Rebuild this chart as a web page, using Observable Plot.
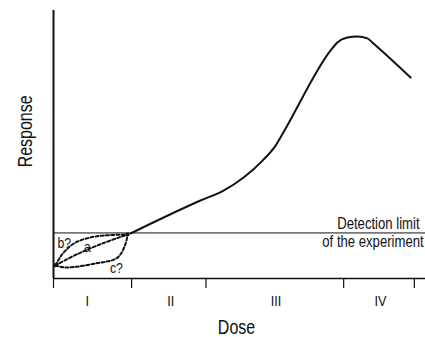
<!DOCTYPE html>
<html>
<head>
<meta charset="utf-8">
<script src="https://cdn.jsdelivr.net/npm/d3@7"></script>
<script src="https://cdn.jsdelivr.net/npm/@observablehq/plot@0.6"></script>
<style>
  html, body { margin: 0; padding: 0; background: #fff; }
</style>
</head>
<body>
<div id="chart"></div>
<script>
// Dose (x) and Response (y) in arbitrary units 0..100
const curveDose     = [20.7, 39.5, 45.7, 51.1, 56.2, 59.7, 61.8, 74.5, 76.3, 79.0, 81.7, 84.4, 86.0, 96.0];
const curveResponse = [16.8, 29.1, 32.8, 37.7, 44.0, 49.6, 54.5, 85.1, 88.1, 89.9, 90.3, 89.6, 87.7, 75.0];

const bDose     = [0.5, 1.9, 3.2, 5.9, 11.3, 19.9];
const bResponse = [4.9, 8.2, 10.4, 13.4, 15.7, 16.4];
const aDose     = [0.5, 6.7, 13.2, 19.9];
const aResponse = [4.9, 9.3, 13.1, 16.4];
const cDose     = [0.5, 3.2, 11.3, 17.2, 19.4, 19.9];
const cResponse = [4.9, 4.1, 5.6, 7.8, 13.1, 16.4];

const detectionLimit = 17;
const tickDoses = [0, 21, 41, 78, 97];
const regionLabels = ["I", "II", "III", "IV"];
const regionCenters = [9.1, 31.5, 59.8, 87.9];
const hypLabels = ["b?", "a", "c?"];
const hypLabelDose = [2.9, 9.1, 16.9];
const hypLabelResponse = [13.1, 11.7, 3.7];

const toPts = (xs, ys) => xs.map((x, i) => ({x, y: ys[i]}));
const mainCurve = toPts(curveDose, curveResponse);
const hypB = toPts(bDose, bResponse);
const hypA = toPts(aDose, aResponse);
const hypC = toPts(cDose, cResponse);
const regions = regionLabels.map((l, i) => ({l, x: regionCenters[i]}));
const hypText = hypLabels.map((t, i) => ({t, x: hypLabelDose[i], y: hypLabelResponse[i]}));

const font = '"Liberation Sans", Arial, sans-serif';
const dash = {stroke: "#111", strokeWidth: 2, strokeDasharray: "3,2.2", curve: "catmull-rom"};

const chart = Plot.plot({
  width: 425,
  height: 337,
  marginLeft: 53,
  marginRight: 0,
  marginTop: 10,
  marginBottom: 59,
  x: {domain: [0, 100], axis: null},
  y: {domain: [0, 100], axis: null},
  style: {background: "#fff", fontFamily: font},
  marks: [
    // axes
    Plot.ruleX([0], {y1: 0, y2: 100, stroke: "#111", strokeWidth: 2}),
    Plot.ruleY([0], {x1: 0, x2: 100, stroke: "#111", strokeWidth: 1.5}),
    Plot.ruleX(tickDoses, {y1: 0, y2: -3.7, stroke: "#111", strokeWidth: 1.2}),
    // detection limit
    Plot.ruleY([detectionLimit], {x1: 0, x2: 100, stroke: "#111", strokeWidth: 1}),
    Plot.text(["Detection limit"], {x: 98.4, y: 18.5, text: d => d, textAnchor: "end", lineAnchor: "bottom", fontSize: 16, fill: "#111"}),
    Plot.text(["of the experiment"], {x: 99.5, y: 11.6, text: d => d, textAnchor: "end", lineAnchor: "bottom", fontSize: 16, fill: "#111"}),
    // hypotheses in region I
    Plot.line(hypB, {x: "x", y: "y", ...dash}),
    Plot.line(hypA, {x: "x", y: "y", ...dash}),
    Plot.line(hypC, {x: "x", y: "y", ...dash}),
    Plot.dot([hypA[0], hypA[hypA.length - 1]], {x: "x", y: "y", r: 2, fill: "#111"}),
    Plot.text(hypText, {x: "x", y: "y", text: "t", fontSize: 15, fill: "#111"}),
    // main response curve
    Plot.line(mainCurve, {x: "x", y: "y", curve: "monotone-x", stroke: "#111", strokeWidth: 2}),
    // region labels
    Plot.text(regions, {x: "x", y: -8.4, text: "l", fontSize: 15.5, fill: "#111"}),
    // axis titles
    Plot.text(["Dose"], {x: 49.2, y: -20.6, text: d => d, lineAnchor: "bottom", fontSize: 19.5, fill: "#111"}),
    Plot.text(["Response"], {x: -7.5, y: 54.9, text: d => d, rotate: -90, fontSize: 19.5, fill: "#111"})
  ]
});
document.getElementById("chart").appendChild(chart);

// Condensed look (the original uses a narrow sans): squeeze each text along its reading direction
d3.select(chart).selectAll("text").each(function () {
  const t = this.getAttribute("transform") || "";
  this.setAttribute("transform", (t + " scale(0.82,1)").trim());
});
</script>
</body>
</html>
